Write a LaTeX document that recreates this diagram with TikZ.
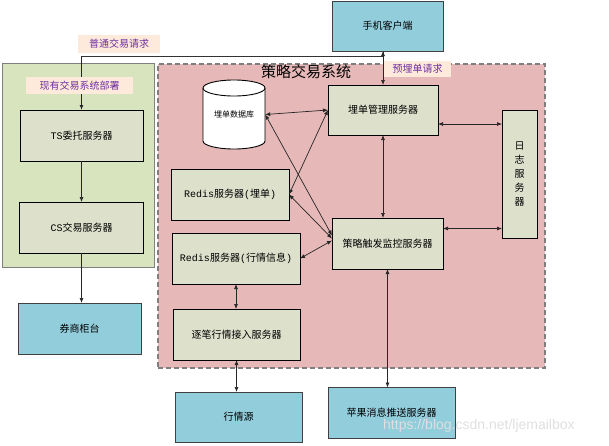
\documentclass[tikz,border=0pt]{standalone}
\usepackage{fontspec}
\newfontfamily\cjk{Noto Sans CJK SC}
\newfontfamily\mono{Liberation Mono}
\newfontfamily\wmfont{Liberation Sans}
\usetikzlibrary{arrows.meta,calc}
\definecolor{greenbg}{HTML}{D7E4BD}
\definecolor{pinkbg}{HTML}{E6B9B8}
\definecolor{innerc}{HTML}{DDE1CC}
\definecolor{bluec}{HTML}{92CDDC}
\definecolor{labelc}{HTML}{FDEADA}
\definecolor{purplec}{HTML}{7030A0}
\definecolor{bordc}{HTML}{7F7F7F}
\begin{document}
\begin{tikzpicture}[x=1pt,y=-1pt,
  box/.style={draw=black, line width=0.9pt, fill=innerc, inner sep=0pt, outer sep=0pt,
    font=\cjk\fontsize{10}{12}\selectfont, align=center},
  bluebox/.style={box, fill=bluec, draw=black!75},
  lbl/.style={fill=labelc, text=purplec, inner sep=0pt, outer sep=0pt,
    font=\cjk\fontsize{10}{12}\selectfont},
  arr/.style={-{Latex[length=5pt,width=4pt]}, line width=0.7pt, draw=black!85},
  darr/.style={{Latex[length=5pt,width=4pt]}-{Latex[length=5pt,width=4pt]}, line width=0.7pt, draw=black!85}
]
\useasboundingbox (0,0) rectangle (609,445);

% group backgrounds
\node[draw=bordc, line width=1pt, fill=greenbg, minimum width=152pt, minimum height=204pt, inner sep=0pt] (green) at (78,165) {};
\node[draw=bordc, line width=1.2pt, dash pattern=on 5pt off 3pt, fill=pinkbg, minimum width=387pt, minimum height=304pt, inner sep=0pt] (pink) at (351.5,216) {};
\node[font=\cjk\fontsize{15}{17}\selectfont, inner sep=0pt] (title) at (306,72) {策略交易系统};

% boxes
\node[bluebox, minimum width=111pt, minimum height=50pt] (phone) at (387.5,26) {手机客户端};
\node[box, minimum width=123pt, minimum height=51pt] (ts) at (81.5,135.5) {{\mono TS}委托服务器};
\node[box, minimum width=124pt, minimum height=51pt] (cs) at (81.5,227.5) {{\mono CS}交易服务器};
\node[bluebox, minimum width=123pt, minimum height=51pt] (quan) at (79.5,328.5) {券商柜台};
\node[box, minimum width=110pt, minimum height=50pt] (mgmt) at (383,110) {埋单管理服务器};
\node[box, minimum width=35pt, minimum height=128pt, font=\cjk\fontsize{10}{14}\selectfont] (log) at (519.5,174) {日\\志\\服\\务\\器};
\node[box, minimum width=118pt, minimum height=51pt] (redis1) at (230,194.5) {{\mono Redis}服务器{\mono (}埋单{\mono )}};
\node[box, minimum width=111pt, minimum height=51pt] (trig) at (387.5,243.5) {策略触发监控服务器};
\node[box, minimum width=128pt, minimum height=51pt] (redis2) at (236,258.5) {{\mono Redis}服务器{\mono (}行情信息{\mono )}};
\node[box, minimum width=127pt, minimum height=51pt] (zhubi) at (236.5,334.5) {逐笔行情接入服务器};
\node[bluebox, minimum width=127pt, minimum height=50pt] (src) at (238.5,417) {行情源};
\node[bluebox, minimum width=127pt, minimum height=51pt] (apple) at (391.5,413) {苹果消息推送服务器};

% database cylinder
\fill[white] (203,88) rectangle (265,141);
\fill[white] (234,141) ellipse [x radius=31pt, y radius=8pt];
\draw[line width=0.9pt] (203,88) -- (203,141) arc[start angle=180, end angle=360, x radius=31pt, y radius=8pt] -- (265,88);
\draw[line width=0.9pt, fill=white] (234,88) ellipse [x radius=31pt, y radius=8pt];
\node[inner sep=0pt, minimum width=62pt, minimum height=69pt, font=\cjk\fontsize{8}{10}\selectfont] (db) at (234,114.5) {埋单数据库};

% top request lines
\coordinate (pb) at (mgmt.north |- phone.south);
\coordinate (turn) at ($(pb)+(0,5)$);
\draw[line width=1pt, draw=black!80] (pb) -- (turn) -- (turn -| ts.north);
\draw[arr, line width=1pt] (turn -| ts.north) -- (ts.north);
\draw[darr] (pb) -- (mgmt.north);

% labels over lines
\node[lbl, minimum width=82pt, minimum height=18pt] (lab1) at (119,44) {普通交易请求};
\node[lbl, minimum width=107pt, minimum height=17pt] (lab2) at (79.5,85.5) {现有交易系统部署};
\node[lbl, minimum width=67pt, minimum height=16pt] (lab3) at (417.5,68.5) {预埋单请求};

% left chain
\draw[arr] (ts.south) -- (ts.south |- cs.north);
\draw[arr] (cs.south) -- (cs.south |- quan.north);

% central connectors
\draw[darr] (db.east) -- (mgmt.west);
\draw[darr] (db.east) -- ($(trig.west)+(0,-8)$);
\draw[darr] (redis1.east) -- (mgmt.west);
\draw[darr] (redis1.east) -- ($(trig.west)+(0,-5)$);
\draw[darr] (redis2.east) -- ($(trig.west)+(0,-3)$);
\draw[darr] (mgmt.south) -- (mgmt.south |- trig.north);
\draw[darr] (trig.south) -- (trig.south |- apple.north);
\draw[darr] (redis2.south) -- (redis2.south |- zhubi.north);
\draw[darr] (zhubi.south) -- (zhubi.south |- src.north);
\coordinate (m1) at ($(mgmt.east)+(0,14)$);
\draw[darr] (m1) -- (m1 -| log.west);
\coordinate (m2) at ($(trig.east)+(0,-15)$);
\draw[darr] (m2) -- (m2 -| log.west);

% watermark
\node[font=\wmfont\fontsize{14}{16}\selectfont, text=white!75!gray, anchor=west, inner sep=0pt] (wm) at (383,426) {https://blog.csdn.net/ljemailbox};
\end{tikzpicture}
\end{document}
